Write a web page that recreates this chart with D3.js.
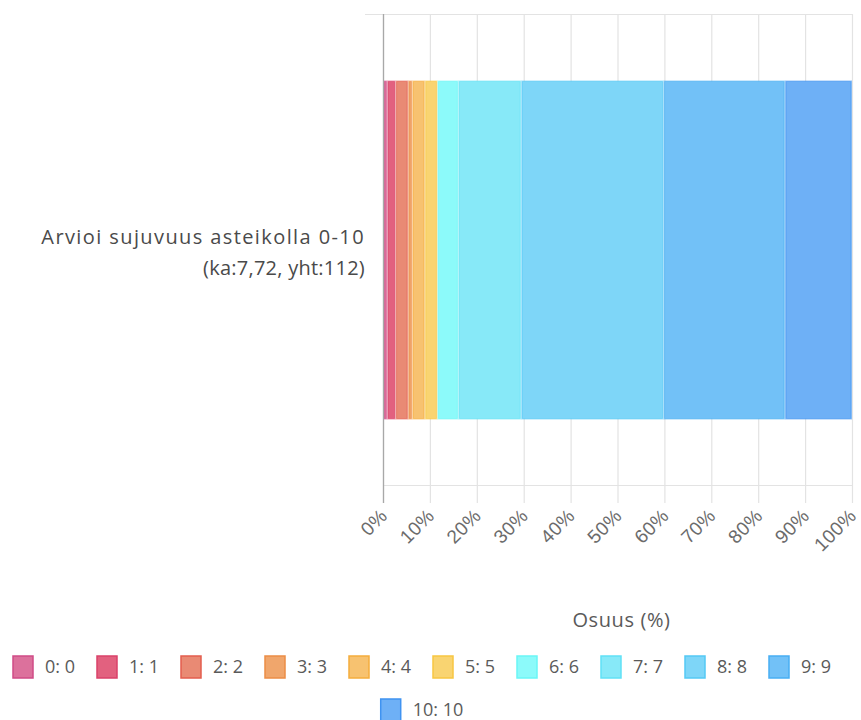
<!DOCTYPE html>
<html>
<head>
<meta charset="utf-8">
<script src="https://cdn.jsdelivr.net/npm/d3@7"></script>
<style>
  html, body { margin: 0; padding: 0; background: #fff; }
  svg { display: block; font-family: "Open Sans", Lato, sans-serif; }
</style>
</head>
<body>
<svg id="chart" width="861" height="720"></svg>
<script>
// Question and its summary line
const questionLines = ["Arvioi sujuvuus asteikolla 0-10", "(ka:7,72, yht:112)"];
const questionSpacing = [1.4, 0.25];
const category = "Arvioi sujuvuus asteikolla 0-10";

// Answer scale and number of answers for each grade
const grades = ["0", "1", "2", "3", "4", "5", "6", "7", "8", "9", "10"];
const counts = [1, 2, 3, 1, 3, 3, 5, 15, 34, 29, 16];

// Legend labels
const legendLabels = ["0: 0", "1: 1", "2: 2", "3: 3", "4: 4", "5: 5", "6: 6", "7: 7", "8: 8", "9: 9", "10: 10"];

// Axis ticks
const tickValues = [0, 10, 20, 30, 40, 50, 60, 70, 80, 90, 100];
const axisTitle = "Osuus (%)";

// Grade palette: soft fill with a stronger edge
const fills   = ["#dc719c", "#e2617f", "#e98a74", "#f0a66c", "#f7c270", "#f9d471", "#8cfafa", "#87e9f8", "#7ed6f8", "#72c1f7", "#6eb0f6"];
const strokes = ["#d04b86", "#da416a", "#e35d4e", "#ec8d46", "#f5ad3d", "#f7c642", "#6af6f6", "#60e1f6", "#54c9f5", "#48aef3", "#3f93f1"];

const svg = d3.select("#chart");
const total = d3.sum(counts);

const plot = { left: 383, right: 852, top: 14, bottom: 486 };

const x = d3.scaleLinear().domain([0, 100]).range([plot.left, plot.right]);
const y = d3.scaleBand().domain([category]).range([plot.top, plot.bottom]).padding(0.164);

// Vertical grid lines with tick marks extending below the plot
const tickBottom = 503;
const gx = svg.append("g")
  .attr("transform", `translate(0,${tickBottom})`)
  .call(d3.axisBottom(x)
    .tickValues(tickValues)
    .tickSizeInner(-(tickBottom - plot.top))
    .tickSizeOuter(0)
    .tickFormat(d => d + "%"));
gx.select(".domain").remove();
gx.selectAll(".tick line")
  .attr("stroke", "#e3e3e3")
  .attr("stroke-width", 1.2);
gx.selectAll(".tick text")
  .attr("fill", "#6b6b6b")
  .attr("font-size", 19)
  .attr("letter-spacing", 0.4)
  .attr("text-anchor", "end")
  .attr("y", 0)
  .attr("dy", 0)
  .attr("transform", "translate(5,14) rotate(-45)");

// Horizontal band edges
svg.append("line")
  .attr("x1", plot.left - 18).attr("x2", plot.right)
  .attr("y1", plot.top + 0.5).attr("y2", plot.top + 0.5)
  .attr("stroke", "#e3e3e3").attr("stroke-width", 1.2);
svg.append("line")
  .attr("x1", plot.left).attr("x2", plot.right)
  .attr("y1", plot.bottom - 0.5).attr("y2", plot.bottom - 0.5)
  .attr("stroke", "#e3e3e3").attr("stroke-width", 1.2);

// Stacked segments
const segments = [];
let acc = 0;
counts.forEach((c, i) => {
  const p0 = acc / total * 100;
  acc += c;
  const p1 = acc / total * 100;
  segments.push({ grade: grades[i], i, p0, p1 });
});

svg.append("g")
  .selectAll("rect")
  .data(segments)
  .join("rect")
  .attr("x", d => x(d.p0) + 0.75)
  .attr("y", y(category) + 0.75)
  .attr("width", d => Math.max(0, x(d.p1) - x(d.p0) - 1.5))
  .attr("height", y.bandwidth() - 1.5)
  .attr("fill", d => fills[d.i])
  .attr("stroke", d => strokes[d.i])
  .attr("stroke-opacity", 0.55)
  .attr("stroke-width", 1.5);

// Category axis line
svg.append("line")
  .attr("x1", plot.left + 0.5).attr("x2", plot.left + 0.5)
  .attr("y1", plot.top).attr("y2", tickBottom)
  .attr("stroke", "#a8a8a8").attr("stroke-width", 1.3);

// Question label
const cy = y(category) + y.bandwidth() / 2;
svg.append("text")
  .attr("x", 365)
  .attr("y", cy - 6)
  .attr("text-anchor", "end")
  .attr("fill", "#4a4a4a")
  .attr("font-size", 20)
  .selectAll("tspan")
  .data(questionLines)
  .join("tspan")
  .attr("x", 365)
  .attr("dy", (d, i) => i === 0 ? 0 : 31)
  .attr("letter-spacing", (d, i) => questionSpacing[i])
  .text(d => d);

// Axis title
svg.append("text")
  .attr("x", (plot.left + plot.right) / 2 + 4)
  .attr("y", 627)
  .attr("text-anchor", "middle")
  .attr("fill", "#5a5a5a")
  .attr("font-size", 20)
  .attr("letter-spacing", 0.6)
  .text(axisTitle);

// Legend, laid out in centred rows
const legend = svg.append("g");
const boxW = 20, boxH = 22, gap = 12, itemGap = 22, maxRow = 840;
const items = legendLabels.map((label, i) => {
  const g = legend.append("g");
  g.append("rect")
    .attr("width", boxW).attr("height", boxH)
    .attr("y", -boxH / 2)
    .attr("fill", fills[i])
    .attr("stroke", strokes[i])
    .attr("stroke-width", 1.5);
  const t = g.append("text")
    .attr("x", boxW + gap)
    .attr("dy", "0.35em")
    .attr("fill", "#5a5a5a")
    .attr("font-size", 18)
    .text(label);
  const w = boxW + gap + t.node().getComputedTextLength();
  return { g, w };
});
const rows = [[]];
let rowW = 0;
items.forEach(it => {
  const need = rowW === 0 ? it.w : rowW + itemGap + it.w;
  if (need > maxRow && rows[rows.length - 1].length) {
    rows.push([it]);
    rowW = it.w;
  } else {
    rows[rows.length - 1].push(it);
    rowW = need;
  }
});
const legendCenter = 422;
rows.forEach((row, r) => {
  const width = d3.sum(row, d => d.w) + itemGap * (row.length - 1);
  let cx = legendCenter - width / 2;
  row.forEach(it => {
    it.g.attr("transform", `translate(${cx},${667 + r * 43})`);
    cx += it.w + itemGap;
  });
});
</script>
</body>
</html>
